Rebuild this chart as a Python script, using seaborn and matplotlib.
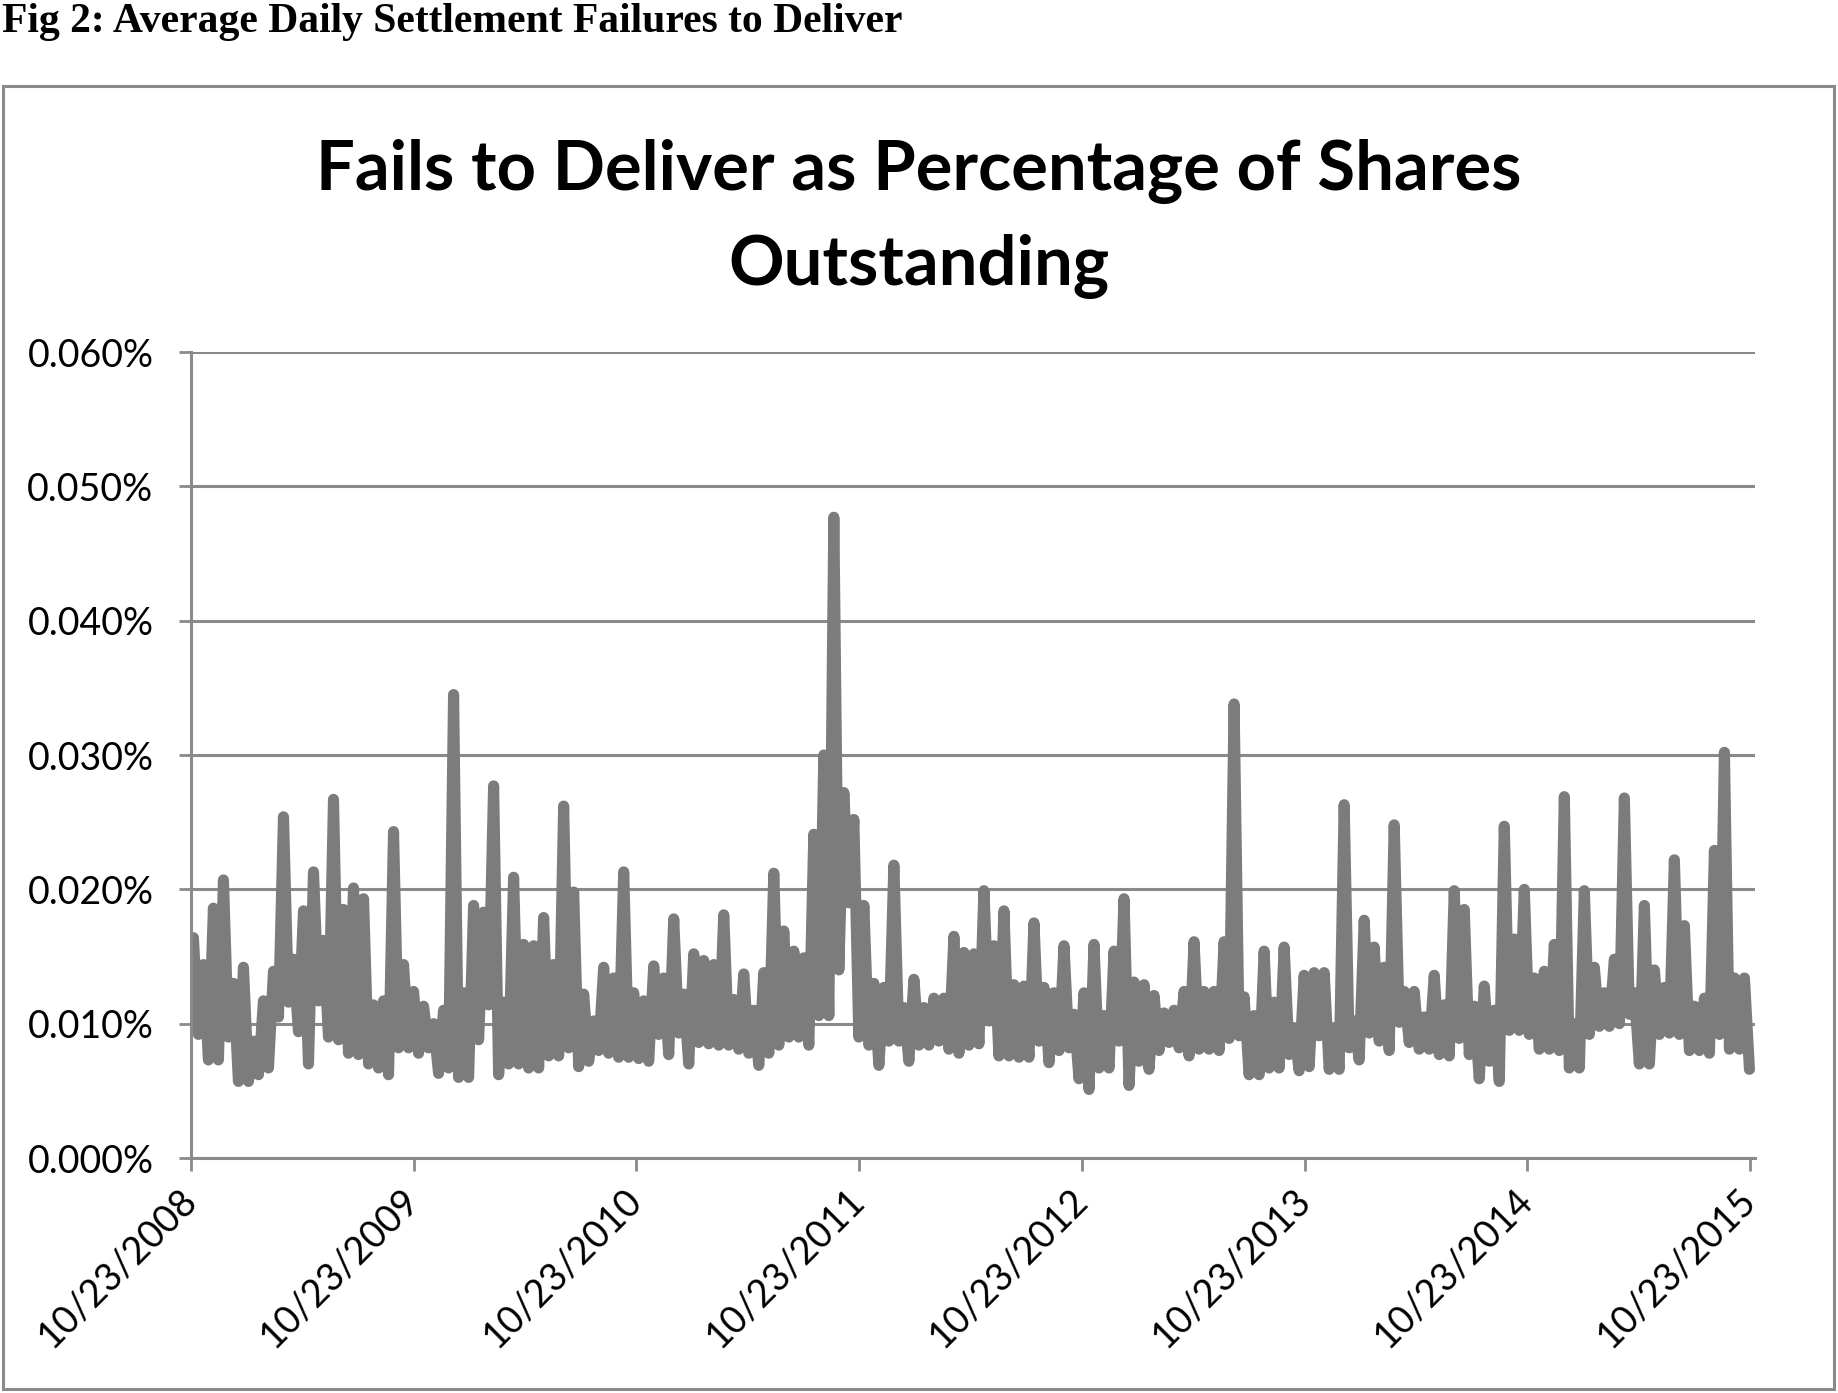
import matplotlib
matplotlib.use("Agg")
import numpy as np
import pandas as pd
import matplotlib.pyplot as plt
import seaborn as sns
from matplotlib.patches import Rectangle
from matplotlib.ticker import FuncFormatter

# fails to deliver, % of shares outstanding:
# one high and one low per ~16-day stretch, Oct 2008 -> Oct 2015
HIGH = [
    0.0164, 0.0144, 0.0186, 0.0207, 0.0130, 0.0142, 0.0087, 0.0117, 0.0139, 0.0254,
    0.0148, 0.0184, 0.0213, 0.0162, 0.0267, 0.0185, 0.0201, 0.0193, 0.0114, 0.0117,
    0.0243, 0.0144, 0.0124, 0.0113, 0.0100, 0.0110, 0.0345, 0.0123, 0.0188, 0.0183,
    0.0277, 0.0116, 0.0209, 0.0159, 0.0158, 0.0179, 0.0144, 0.0262, 0.0198, 0.0122,
    0.0102, 0.0142, 0.0134, 0.0213, 0.0123, 0.0117, 0.0143, 0.0134, 0.0178, 0.0122,
    0.0152, 0.0147, 0.0144, 0.0181, 0.0118, 0.0137, 0.0110, 0.0138, 0.0212, 0.0169,
    0.0154, 0.0149, 0.0241, 0.0300, 0.0477, 0.0272, 0.0252, 0.0188, 0.0130, 0.0127,
    0.0218, 0.0112, 0.0133, 0.0112, 0.0119, 0.0119, 0.0165, 0.0153, 0.0152, 0.0199,
    0.0158, 0.0184, 0.0129, 0.0128, 0.0175, 0.0127, 0.0123, 0.0158, 0.0107, 0.0123,
    0.0159, 0.0106, 0.0154, 0.0193, 0.0131, 0.0129, 0.0121, 0.0108, 0.0110, 0.0124,
    0.0161, 0.0124, 0.0124, 0.0161, 0.0338, 0.0120, 0.0106, 0.0154, 0.0116, 0.0157,
    0.0097, 0.0136, 0.0138, 0.0138, 0.0097, 0.0263, 0.0102, 0.0177, 0.0157, 0.0142,
    0.0248, 0.0124, 0.0124, 0.0105, 0.0136, 0.0114, 0.0199, 0.0185, 0.0113, 0.0128,
    0.0110, 0.0247, 0.0163, 0.0200, 0.0134, 0.0139, 0.0159, 0.0269, 0.0100, 0.0199,
    0.0142, 0.0123, 0.0148, 0.0268, 0.0123, 0.0188, 0.0140, 0.0127, 0.0222, 0.0173,
    0.0113, 0.0119, 0.0229, 0.0302, 0.0134, 0.0134,
]
LOW = [
    0.0092, 0.0073, 0.0073, 0.0090, 0.0057, 0.0057, 0.0062, 0.0067, 0.0105, 0.0116,
    0.0094, 0.0070, 0.0117, 0.0090, 0.0088, 0.0078, 0.0077, 0.0070, 0.0067, 0.0062,
    0.0082, 0.0082, 0.0078, 0.0082, 0.0063, 0.0067, 0.0060, 0.0060, 0.0088, 0.0114,
    0.0062, 0.0070, 0.0070, 0.0067, 0.0067, 0.0076, 0.0076, 0.0082, 0.0068, 0.0072,
    0.0080, 0.0078, 0.0075, 0.0075, 0.0074, 0.0072, 0.0092, 0.0077, 0.0093, 0.0070,
    0.0086, 0.0085, 0.0084, 0.0084, 0.0081, 0.0078, 0.0069, 0.0078, 0.0084, 0.0090,
    0.0090, 0.0084, 0.0106, 0.0106, 0.0140, 0.0190, 0.0090, 0.0084, 0.0069, 0.0087,
    0.0087, 0.0072, 0.0084, 0.0084, 0.0087, 0.0081, 0.0078, 0.0084, 0.0085, 0.0102,
    0.0076, 0.0076, 0.0075, 0.0075, 0.0087, 0.0071, 0.0080, 0.0082, 0.0059, 0.0051,
    0.0067, 0.0067, 0.0087, 0.0054, 0.0072, 0.0066, 0.0080, 0.0086, 0.0082, 0.0076,
    0.0081, 0.0081, 0.0080, 0.0089, 0.0091, 0.0062, 0.0062, 0.0067, 0.0067, 0.0077,
    0.0065, 0.0068, 0.0091, 0.0066, 0.0066, 0.0082, 0.0073, 0.0093, 0.0087, 0.0080,
    0.0101, 0.0086, 0.0081, 0.0081, 0.0077, 0.0076, 0.0089, 0.0077, 0.0059, 0.0072,
    0.0057, 0.0095, 0.0095, 0.0092, 0.0081, 0.0081, 0.0080, 0.0067, 0.0067, 0.0092,
    0.0098, 0.0098, 0.0100, 0.0107, 0.0070, 0.0070, 0.0092, 0.0093, 0.0092, 0.0080,
    0.0080, 0.0078, 0.0092, 0.0081, 0.0081, 0.0066,
]
TICK_YEARS = [2008, 2009, 2010, 2011, 2012, 2013, 2014, 2015]
Y_TICKS = [0.0, 0.01, 0.02, 0.03, 0.04, 0.05, 0.06]

# interleave high/low so the thick line fills the daily band
vals = np.column_stack([HIGH, LOW]).ravel()
dates = pd.date_range("2008-10-27", "2015-10-22", periods=len(vals))
df = pd.DataFrame({"date": dates, "pct": vals})

sns.set_style("white")
plt.rcParams["font.family"] = ["Lato", "DejaVu Sans"]
plt.rcParams["text.color"] = "black"
plt.rcParams["xtick.labelcolor"] = "black"
plt.rcParams["ytick.labelcolor"] = "black"

fig = plt.figure(figsize=(18.38, 13.93), dpi=100)
ax = fig.add_axes([0.1039, 0.1687, 0.8509, 0.5786])

grey = "#8a8a8a"
sns.lineplot(data=df, x="date", y="pct", ax=ax, color="#7c7c7c",
             linewidth=8.0, estimator=None, sort=True)
for l in ax.lines:
    l.set_solid_capstyle("round")
    l.set_solid_joinstyle("round")

ax.set_ylim(0, 0.06)
ax.set_xlim(pd.Timestamp("2008-10-23"), pd.Timestamp("2015-10-31"))
ax.set_yticks(Y_TICKS)
ax.yaxis.set_major_formatter(FuncFormatter(lambda v, p: f"{v:.3f}%"))
ticks = pd.to_datetime([f"{y}-10-23" for y in TICK_YEARS])
ax.set_xticks(ticks)
ax.set_xticklabels([f"10/23/{y}" for y in TICK_YEARS], rotation=45,
                   ha="right", va="center", rotation_mode="anchor")
ax.set_xlabel("")
ax.set_ylabel("")

ax.set_axisbelow(True)
ax.grid(axis="y", color=grey, linewidth=2.2)
ax.grid(axis="x", visible=False)
for s in ["top", "right"]:
    ax.spines[s].set_visible(False)
for s in ["left", "bottom"]:
    ax.spines[s].set_color(grey)
    ax.spines[s].set_linewidth(2.2)
ax.tick_params(axis="y", left=True, length=9, width=2, color=grey,
               labelsize=27, pad=18, labelcolor="black")
ax.tick_params(axis="x", bottom=True, length=9, width=2, color=grey,
               labelsize=27, pad=17, labelcolor="black")

# chart frame and titles
fig.patches.append(Rectangle((0.0016, 0.0029), 0.9962, 0.9354,
                             transform=fig.transFigure, fill=False,
                             edgecolor=grey, linewidth=2.2))
fig.text(0.5, 0.8770, "Fails to Deliver as Percentage of Shares",
         ha="center", va="center", fontsize=49.5, fontweight="bold",
         color="black")
fig.text(0.5, 0.8086, "Outstanding",
         ha="center", va="center", fontsize=49.5, fontweight="bold",
         color="black")
fig.text(0.001, 0.998, "Fig 2: Average Daily Settlement Failures to Deliver",
         ha="left", va="top", fontsize=30, fontweight="bold",
         family="Liberation Serif", color="black")

fig.savefig("out.png", dpi=100)
